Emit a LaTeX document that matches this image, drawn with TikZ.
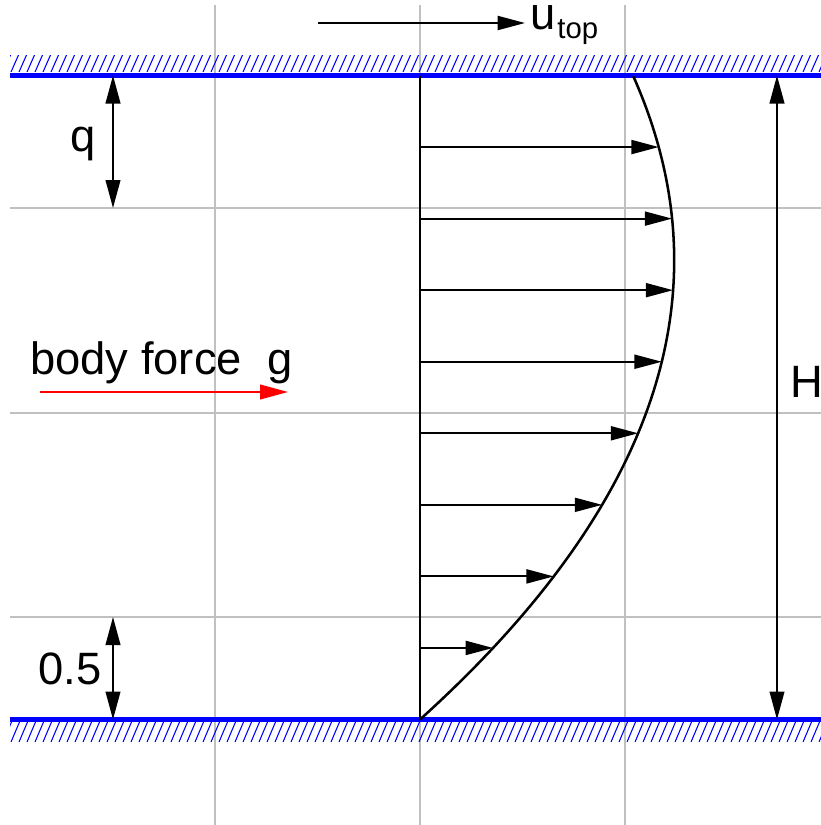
\documentclass[tikz,border=0pt]{standalone}
\usepackage{fontspec}
\setmainfont{Liberation Sans}
\usetikzlibrary{arrows.meta}
\definecolor{gridgray}{RGB}{192,192,192}
\definecolor{wallblue}{RGB}{0,0,255}
\definecolor{forcered}{RGB}{255,0,0}
\begin{document}
\begin{tikzpicture}[x=0.75pt,y=-0.75pt,
  gridline/.style={draw=gridgray, line width=1.5pt},
  wall/.style={draw=wallblue, line width=4.2pt},
  hatchline/.style={draw=wallblue, line width=0.8pt},
  profile/.style={draw=black, line width=1.9pt},
  vec/.style={draw=black, line width=1.5pt, -{Triangle[length=20.5pt,width=10.5pt]}},
  dim/.style={draw=black, line width=1.5pt, {Triangle[length=21pt,width=11pt]}-{Triangle[length=21pt,width=11pt]}},
  force/.style={draw=forcered, line width=1.4pt, -{Triangle[length=21pt,width=11pt]}},
  lbl/.style={inner sep=0pt, anchor=base west, font=\fontsize{34pt}{38pt}\selectfont},
  sublbl/.style={inner sep=0pt, anchor=base west, font=\fontsize{22pt}{26pt}\selectfont}
]
\useasboundingbox (0,0) rectangle (821,825);

% grid
\foreach \x in {215,420,624.5} \draw[gridline] (\x,5) -- (\x,825);
\foreach \y in {208,412.5,617} \draw[gridline] (10,\y) -- (821,\y);

% top wall hatch
\begin{scope}
  \clip (10,55) rectangle (821,71.5);
  \foreach \x in {3,11,...,830} \draw[hatchline] (\x,72) -- (\x+7.5,55);
\end{scope}
% bottom wall hatch
\begin{scope}
  \clip (10,722) rectangle (821,741);
  \foreach \x in {3,11,...,830} \draw[hatchline] (\x,742) -- (\x+8.5,722);
\end{scope}

% walls
\coordinate (tl) at (10,75.5);
\coordinate (tr) at (821,75.5);
\coordinate (bl) at (10,719.5);
\coordinate (br) at (821,719.5);
\draw[wall] (tl) -- (tr);
\draw[wall] (bl) -- (br);

% profile axis and curve
\coordinate (axtop) at (420,75.5);
\coordinate (axbot) at (420,719.5);
\draw[profile] (axbot) -- (axtop);
\draw[profile] plot[domain=0:1, samples=120, variable=\s] ({420+213*\s+500*\s*(1-\s)}, {719.5-644*\s});

% velocity arrows
\foreach \k in {1,...,8} {
  \pgfmathsetmacro{\s}{\k/9}
  \pgfmathsetmacro{\yy}{719.5-644*\s}
  \pgfmathsetmacro{\xx}{420+213*\s+500*\s*(1-\s)}
  \coordinate (v\k a) at (420,\yy);
  \coordinate (v\k b) at (\xx,\yy);
  \draw[vec] (v\k a) -- (v\k b);
}

% u_top
\coordinate (ua) at (318,23);
\coordinate (ub) at (525,23);
\draw[vec] (ua) -- (ub);
\node[lbl] (ulab) at (530,29) {u};
\node[sublbl] (toplab) at (ulab.base east) [yshift=-7pt, xshift=1pt] {top};

% dimension q
\coordinate (qa) at (113,75.5);
\coordinate (qb) at (113,208);
\draw[dim] (qa) -- (qb);
\node[lbl] (qlab) at (70,151) {q};

% dimension 0.5
\coordinate (ha) at (113,617);
\coordinate (hb) at (113,719.5);
\draw[dim] (ha) -- (hb);
\node[lbl] (half) at (38,684) {0.5};

% dimension H
\coordinate (Ha) at (777,75.5);
\coordinate (Hb) at (777,719.5);
\draw[dim] (Ha) -- (Hb);
\node[lbl] (Hlab) at (790,397) {H};

% body force
\node[lbl] (bf) at (30,374) {body force~~g};
\coordinate (fa) at (40,392);
\coordinate (fb) at (288,392);
\draw[force] (fa) -- (fb);
\end{tikzpicture}
\end{document}
